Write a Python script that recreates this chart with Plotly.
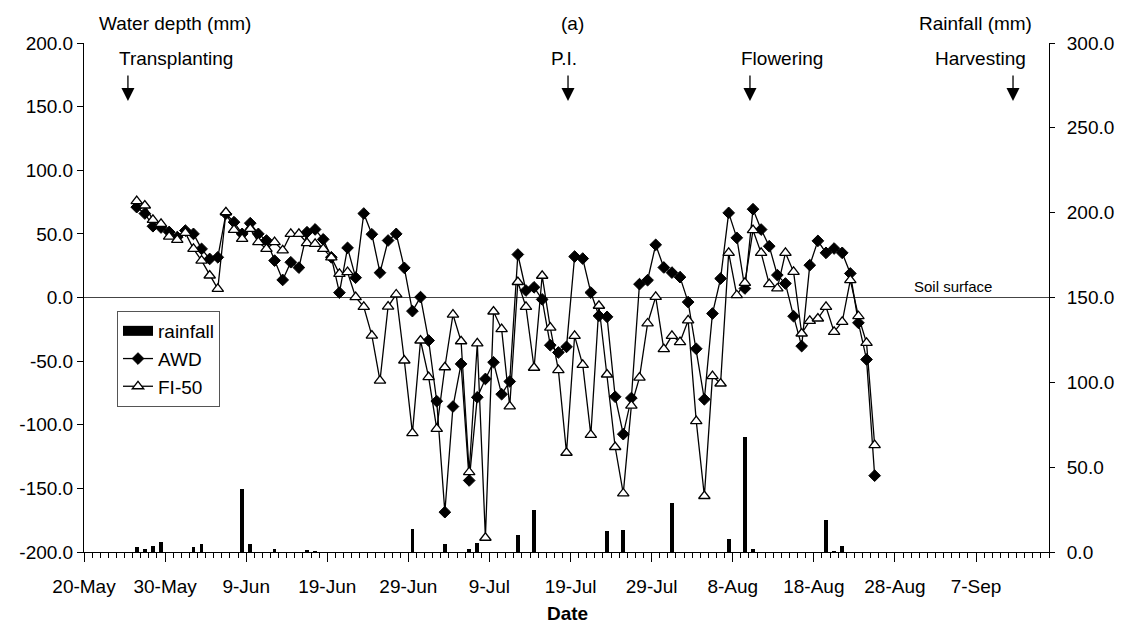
import pandas as pd
import plotly.graph_objects as go

# ---------------- data ----------------
series_start = "2007-05-26"   # first daily water-depth reading

awd = [71, 66, 56, 55, 51.5, 47.5, 52.6, 50, 38.2, 30.3, 31.6, 65.8, 59.2, 50, 58.4, 50,
       44.8, 29, 13.8, 27.7, 23.5, 51.3, 53.5, 45.7, 31.6, 3.8, 39, 15.6, 66, 49.7, 19.5,
       44.8, 50, 23.3, -10.7, 0.3, -33.8, -81.5, -168.7, -85.7, -52.2, -143.8, -78.4, -64,
       -50.9, -76, -66, 33.8, 5.5, 8, -1.5, -37.5, -43.2, -38.8, 32.2, 30.6, 3.9, -14.4,
       -15.2, -78, -107.4, -79, 10.5, 13.6, 41.4, 23.6, 19.6, 16, -3.6, -40.3, -80, -12.6,
       14.9, 66.5, 46.9, 7.1, 69.4, 53.4, 40.3, 17.6, 11, -14.7, -38.2, 25.4, 44.5, 35.1,
       38.5, 35.1, 18.9, -19.9, -48.7, -140]

fi50 = [75.7, 72.3, 61, 57.9, 47.9, 45.3, 50.8, 38.2, 29, 17.3, 6.8, 67, 53.2, 46.1, 54,
        43.5, 38.2, 43.5, 37, 50, 50, 42.8, 42.2, 38.2, 31.5, 18.6, 19.9, 0.3, -7.3, -29.9,
        -65.3, -7.1, 2.4, -49.5, -106.6, -33.8, -62.6, -103.2, -54.8, -13.4, -34.4, -137.3,
        -36, -188.8, -11, -24.8, -85.6, 12.2, -7.3, -55.2, 17.1, -23.6, -57.1, -122, -30.1,
        -52.9, -108, -6.5, -60.5, -117.5, -154, -85, -63, -20.4, 0.5, -40.6, -30.1, -35, -18,
        -97.2, -156, -61.8, -67.6, 35.1, 1.8, 11.5, 52.9, 35.1, 10.5, 7.1, 35.1, 20.2, -28.3,
        -18.3, -16.5, -7.3, -27, -19.1, 13.6, -14.7, -35.6, -116]

rain_dates = ["2007-05-26", "2007-05-27", "2007-05-28", "2007-05-29", "2007-06-02", "2007-06-03",
              "2007-06-08", "2007-06-09", "2007-06-12", "2007-06-16", "2007-06-17", "2007-06-29",
              "2007-07-03", "2007-07-06", "2007-07-07", "2007-07-12", "2007-07-14", "2007-07-23",
              "2007-07-25", "2007-07-31", "2007-08-07", "2007-08-09", "2007-08-10", "2007-08-19",
              "2007-08-20", "2007-08-21"]
rain_mm = [2.9, 1.6, 3.7, 5.7, 2.9, 4.9, 36.9, 4.5, 2.0, 0.8, 0.4, 13.6, 5.0, 1.6, 5.3, 9.8,
           24.6, 12.2, 13.2, 28.9, 7.9, 67.8, 1.6, 19.1, 0.4, 3.3]

event_names = ["Transplanting", "P.I.", "Flowering", "Harvesting"]
event_dates = ["2007-05-25 10:00", "2007-07-18 16:30", "2007-08-10 03:00", "2007-09-11 13:30"]

left_tickvals = [-200, -150, -100, -50, 0, 50, 100, 150, 200]
left_ticktext = ["-200.0", "-150.0", "-100.0", "-50.0", "0.0", "50.0", "100.0", "150.0", "200.0"]
right_tickvals = [0, 50, 100, 150, 200, 250, 300]
right_ticktext = ["0.0", "50.0", "100.0", "150.0", "200.0", "250.0", "300.0"]

x_range = ["2007-05-20", "2007-09-16"]

# ---------------- figure ----------------
FONT = "Liberation Sans, Arial, sans-serif"
DAY_MS = 86400000
half_day = pd.Timedelta(hours=12)

depth_x = pd.date_range(series_start, periods=len(awd), freq="D") + half_day
rain_x = pd.to_datetime(rain_dates) + half_day

fig = go.Figure()

# legend entry for rainfall drawn as a wide black block (like the original legend key)
fig.add_trace(go.Scatter(
    x=[None], y=[None], name="rainfall", mode="lines",
    line=dict(color="black", width=13), legendgroup="rain", showlegend=True,
))
fig.add_trace(go.Bar(
    x=rain_x, y=rain_mm, name="rainfall", yaxis="y2",
    marker=dict(color="black", line=dict(width=0)),
    width=0.45 * DAY_MS, legendgroup="rain", showlegend=False,
))
fig.add_trace(go.Scatter(
    x=depth_x, y=awd, name="AWD", mode="lines+markers",
    line=dict(color="black", width=1.3),
    marker=dict(symbol="diamond", size=9, color="black", line=dict(color="black", width=1)),
))
fig.add_trace(go.Scatter(
    x=depth_x, y=fi50, name="FI-50", mode="lines+markers",
    line=dict(color="black", width=1.3),
    marker=dict(symbol="triangle-up", size=10, color="white", line=dict(color="black", width=1.3)),
))

annotations = []
annotations.append(dict(text="Water depth (mm)", xref="paper", yref="paper",
                        x=(97 - 84) / 965, y=(552 - 23) / 509, xanchor="left", yanchor="middle",
                        showarrow=False, font=dict(size=19)))
annotations.append(dict(text="(a)", xref="paper", yref="paper",
                        x=(572 - 84) / 965, y=(552 - 23) / 509, xanchor="center", yanchor="middle",
                        showarrow=False, font=dict(size=19)))
annotations.append(dict(text="Rainfall (mm)", xref="paper", yref="paper",
                        x=(1034 - 84) / 965, y=(552 - 23) / 509, xanchor="right", yanchor="middle",
                        showarrow=False, font=dict(size=19)))
annotations.append(dict(text="<b>Date</b>", xref="paper", yref="paper",
                        x=(567 - 84) / 965, y=(552 - 613) / 509, xanchor="center", yanchor="middle",
                        showarrow=False, font=dict(size=19)))
annotations.append(dict(text="Soil surface", xref="paper", yref="y",
                        x=(953 - 84) / 965, y=0, xanchor="center", yanchor="bottom", yshift=1,
                        showarrow=False, font=dict(size=15)))

label_shift = [48, -4, 32, -33]
tip_y = (552 - 101) / 509
label_y = (552 - 59) / 509
for name, d, sh in zip(event_names, event_dates, label_shift):
    annotations.append(dict(text="", x=d, y=tip_y, xref="x", yref="paper",
                            showarrow=True, ax=0, ay=-27, arrowhead=2, arrowsize=2,
                            arrowwidth=1.3, arrowcolor="black"))
    annotations.append(dict(text=name, x=d, y=label_y, xref="x", yref="paper", xshift=sh,
                            xanchor="center", yanchor="middle", showarrow=False,
                            font=dict(size=19)))

fig.update_layout(
    width=1128, height=625,
    margin=dict(l=84, r=79, t=43, b=73),
    paper_bgcolor="white", plot_bgcolor="white",
    font=dict(family=FONT, size=19, color="black"),
    showlegend=True,
    legend=dict(x=(117 - 84) / 965, y=(552 - 311) / 509, xanchor="left", yanchor="top",
                bgcolor="white", bordercolor="#555", borderwidth=1,
                font=dict(size=19), traceorder="normal", tracegroupgap=0),
    bargap=0,
    xaxis=dict(
        type="date", range=x_range,
        tick0="2007-05-20", dtick=10 * DAY_MS, tickformat="%-d-%b",
        ticks="outside", ticklen=9, tickcolor="black", ticklabelstandoff=8,
        showline=True, linecolor="black", linewidth=1,
        showgrid=False, zeroline=False,
        minor=dict(dtick=DAY_MS, tick0="2007-05-20", ticks="outside", ticklen=5,
                   tickcolor="black", showgrid=False),
        tickfont=dict(size=19),
    ),
    yaxis=dict(
        range=[-200, 200], tickvals=left_tickvals, ticktext=left_ticktext,
        ticks="outside", ticklen=6, tickcolor="black",
        showline=True, linecolor="black", linewidth=1,
        showgrid=False, zeroline=True, zerolinecolor="#444", zerolinewidth=1,
        tickfont=dict(size=19),
    ),
    yaxis2=dict(
        range=[0, 300], tickvals=right_tickvals, ticktext=right_ticktext,
        overlaying="y", side="right",
        ticks="outside", ticklen=5, tickcolor="black", ticklabelstandoff=8,
        showline=True, linecolor="black", linewidth=1,
        showgrid=False, zeroline=False,
        tickfont=dict(size=19),
    ),
    annotations=annotations,
)

fig.write_html("out.html")
